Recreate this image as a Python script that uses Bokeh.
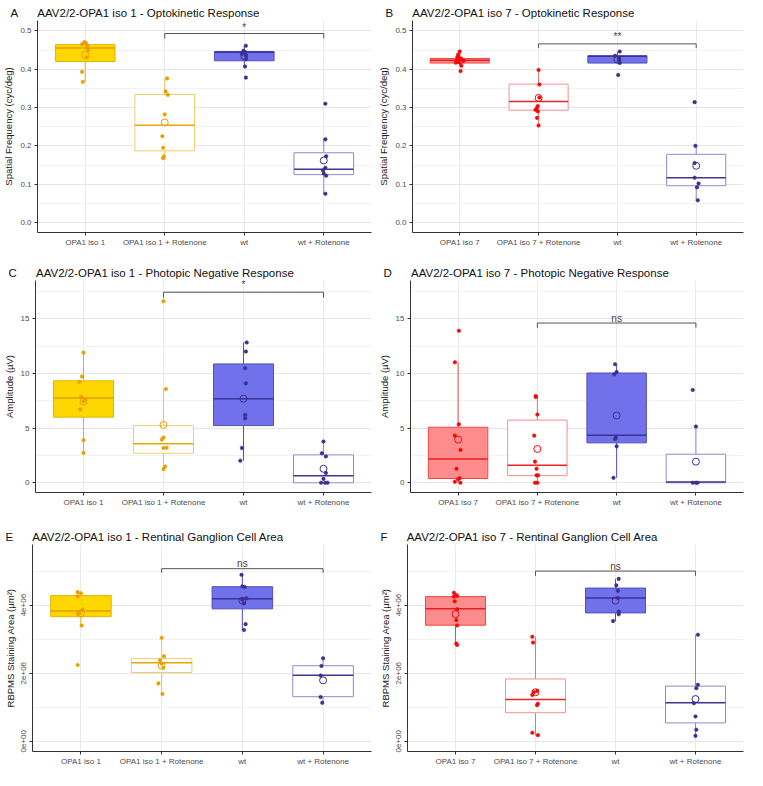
from bokeh.plotting import figure
from bokeh.layouts import column, row
from bokeh.models import FixedTicker, Range1d, ColumnDataSource
from bokeh.core.properties import value
from bokeh.embed import file_html
from bokeh.resources import INLINE

FONT = "Liberation Sans"

cats_iso1 = ["OPA1 iso 1", "OPA1 iso 1 + Rotenone", "wt", "wt + Rotenone"]
cats_iso7 = ["OPA1 iso 7", "OPA1 iso 7 + Rotenone", "wt", "wt + Rotenone"]
groups_iso1 = ["gold", "gold_rot", "blue", "blue_rot"]
groups_iso7 = ["red", "red_rot", "blue", "blue_rot"]

# ---------------- Panel A : optokinetic, iso 1 ----------------
A_pts = [[0.471, 0.468, 0.465, 0.461, 0.457, 0.450, 0.431, 0.393, 0.367],
         [0.376, 0.342, 0.333, 0.282, 0.225, 0.195, 0.172, 0.168],
         [0.461, 0.448, 0.445, 0.440, 0.436, 0.426, 0.407, 0.378],
         [0.310, 0.217, 0.173, 0.143, 0.136, 0.128, 0.122, 0.075]]
A_jit = [[-0.01, 0.01, -0.04, 0.03, 0.02, 0.04, 0.02, -0.04, -0.03],
         [0.03, 0.01, 0.04, 0.0, -0.03, -0.02, -0.01, -0.02],
         [0.02, -0.01, 0.01, -0.03, 0.02, 0.02, 0.01, 0.02],
         [0.02, 0.02, 0.03, 0.02, -0.01, 0.0, 0.03, 0.02]]
A_q1 = [0.420, 0.187, 0.422, 0.125]
A_med = [0.455, 0.254, 0.444, 0.139]
A_q3 = [0.464, 0.334, 0.446, 0.182]
A_lo = [0.367, 0.168, 0.407, 0.075]
A_hi = [0.471, 0.376, 0.461, 0.217]
A_mean = [0.438, 0.261, 0.434, 0.162]
A_bracket = [2, 4, 0.493, 0.480, 0.508, "*"]

# ---------------- Panel B : optokinetic, iso 7 ----------------
B_pts = [[0.446, 0.438, 0.432, 0.428, 0.423, 0.422, 0.419, 0.417, 0.409, 0.395],
         [0.398, 0.360, 0.326, 0.304, 0.299, 0.294, 0.290, 0.273, 0.253],
         [0.446, 0.435, 0.429, 0.422, 0.416, 0.385],
         [0.314, 0.200, 0.155, 0.117, 0.102, 0.092, 0.058]]
B_jit = [[0.0, -0.02, -0.03, 0.01, -0.04, 0.05, -0.01, -0.05, 0.02, 0.01],
         [0.0, 0.01, 0.01, -0.01, -0.02, -0.04, -0.01, -0.02, 0.0],
         [0.03, -0.03, 0.02, 0.02, 0.03, 0.01],
         [-0.02, -0.01, -0.02, -0.02, 0.03, 0.01, 0.02]]
B_q1 = [0.416, 0.293, 0.416, 0.096]
B_med = [0.423, 0.316, 0.434, 0.117]
B_q3 = [0.428, 0.361, 0.435, 0.178]
B_lo = [0.409, 0.253, 0.416, 0.058]
B_hi = [0.446, 0.398, 0.446, 0.200]
B_mean = [0.423, 0.325, 0.425, 0.148]
B_bracket = [2, 4, 0.466, 0.455, 0.485, "**"]

# ---------------- Panel C : PhNR, iso 1 ----------------
C_pts = [[11.9, 9.71, 9.21, 7.87, 7.63, 7.43, 6.71, 3.89, 2.73],
         [16.6, 8.58, 4.13, 3.95, 3.20, 3.18, 1.49, 1.25],
         [12.83, 12.0, 10.48, 9.09, 6.2, 5.9, 3.18, 2.02],
         [3.77, 2.70, 2.41, 0.89, 0.36, 0.0, 0.0, 0.0]]
C_jit = [[0.0, -0.02, -0.05, -0.03, 0.02, 0.0, -0.04, 0.0, 0.0],
         [0.0, 0.03, 0.0, -0.02, 0.04, 0.0, 0.02, 0.0],
         [0.04, 0.03, 0.02, 0.03, 0.02, 0.02, -0.02, -0.04],
         [0.0, -0.02, 0.03, 0.03, 0.0, -0.03, 0.02, 0.05]]
C_q1 = [6.0, 2.70, 5.23, 0.0]
C_med = [7.75, 3.56, 7.69, 0.65]
C_q3 = [9.33, 5.23, 10.87, 2.55]
C_lo = [2.73, 1.25, 2.02, 0.0]
C_hi = [11.9, 8.58, 12.83, 3.77]
C_mean = [7.43, 5.29, 7.69, 1.28]
C_bracket = [2, 4, 17.43, 16.93, 18.1, "*"]

# ---------------- Panel D : PhNR, iso 7 ----------------
D_pts = [[13.9, 11.02, 5.35, 4.31, 3.0, 1.28, 0.42, 0.33, 0.09, 0.0],
         [7.93, 7.84, 6.24, 4.31, 1.93, 1.28, 0.68, 0.68, 0.0, 0.0],
         [10.84, 10.13, 9.92, 4.13, 4.0, 3.33, 0.45],
         [8.49, 5.14, 0.0, 0.0, 0.0]]
D_jit = [[0.01, -0.04, 0.01, -0.04, 0.03, -0.02, 0.02, 0.0, -0.04, 0.03],
         [-0.02, -0.02, 0.0, -0.04, -0.03, -0.01, 0.01, -0.01, -0.03, 0.0],
         [-0.02, 0.0, -0.03, -0.01, -0.02, 0.0, -0.04],
         [-0.04, 0.0, -0.04, 0.0, 0.02]]
D_q1 = [0.39, 0.65, 3.65, 0.0]
D_med = [2.17, 1.6, 4.34, 0.06]
D_q3 = [5.08, 5.73, 10.04, 2.61]
D_lo = [0.0, 0.0, 0.45, 0.0]
D_hi = [11.02, 7.93, 10.84, 5.14]
D_mean = [3.95, 3.09, 6.15, 1.93]
D_bracket = [2, 4, 14.61, 14.17, 15.06, "ns"]

# ---------------- Panel E : RGC area, iso 1 ----------------
E_pts = [[4.38e6, 4.35e6, 4.26e6, 3.87e6, 3.76e6, 3.75e6, 3.40e6, 2.24e6],
         [3.04e6, 2.50e6, 2.38e6, 2.28e6, 2.16e6, 1.70e6, 1.39e6],
         [4.89e6, 4.55e6, 4.53e6, 4.20e6, 4.16e6, 4.05e6, 3.44e6, 3.27e6],
         [2.44e6, 2.21e6, 1.93e6, 1.30e6, 1.13e6]]
E_jit = [[-0.04, 0.0, -0.04, 0.02, -0.02, -0.04, 0.01, -0.04],
         [0.0, 0.03, -0.02, 0.0, 0.02, -0.04, 0.01],
         [-0.01, 0.0, 0.03, 0.05, 0.0, 0.02, 0.04, 0.02],
         [0.0, -0.02, -0.03, -0.03, -0.01]]
E_q1 = [3.66e6, 2.02e6, 3.89e6, 1.31e6]
E_med = [3.83e6, 2.31e6, 4.19e6, 1.94e6]
E_q3 = [4.28e6, 2.43e6, 4.54e6, 2.22e6]
E_lo = [3.40e6, 1.39e6, 3.27e6, 1.13e6]
E_hi = [4.38e6, 3.04e6, 4.89e6, 2.44e6]
E_mean = [3.76e6, 2.22e6, 4.13e6, 1.79e6]
E_bracket = [2, 4, 5.07e6, 4.95e6, 5.21e6, "ns"]

# ---------------- Panel F : RGC area, iso 7 ----------------
F_pts = [[4.36e6, 4.29e6, 4.27e6, 4.25e6, 4.11e6, 3.88e6, 3.56e6, 3.40e6, 2.87e6, 2.83e6],
         [3.07e6, 2.90e6, 1.48e6, 1.44e6, 1.36e6, 1.10e6, 1.06e6, 0.25e6, 0.18e6],
         [4.77e6, 4.58e6, 4.42e6, 4.21e6, 3.81e6, 3.73e6, 3.53e6],
         [3.13e6, 1.66e6, 1.56e6, 1.12e6, 0.73e6, 0.34e6, 0.16e6]]
F_jit = [[-0.02, 0.01, 0.02, -0.02, -0.01, 0.02, 0.01, 0.02, 0.01, 0.02],
         [-0.04, -0.03, 0.02, -0.02, -0.04, 0.03, 0.02, -0.04, 0.03],
         [0.04, 0.01, 0.03, 0.03, 0.04, 0.04, -0.03],
         [0.03, 0.03, 0.01, -0.02, 0.0, 0.01, 0.0]]
F_q1 = [3.41e6, 0.84e6, 3.77e6, 0.54e6]
F_med = [3.89e6, 1.23e6, 4.21e6, 1.13e6]
F_q3 = [4.25e6, 1.83e6, 4.50e6, 1.62e6]
F_lo = [2.83e6, 0.18e6, 3.53e6, 0.16e6]
F_hi = [4.36e6, 3.07e6, 4.77e6, 3.13e6]
F_mean = [3.74e6, 1.44e6, 4.13e6, 1.24e6]
F_bracket = [2, 4, 5.00e6, 4.86e6, 5.12e6, "ns"]

# ---------------- axes ----------------
okr_ticks = [0.0, 0.1, 0.2, 0.3, 0.4, 0.5]
okr_minor = [0.05, 0.15, 0.25, 0.35, 0.45]
okr_labels = ["0.0", "0.1", "0.2", "0.3", "0.4", "0.5"]
okr_range = (-0.026, 0.527)

phnr_ticks = [0, 5, 10, 15]
phnr_minor = [2.5, 7.5, 12.5, 17.5]
phnr_labels = ["0", "5", "10", "15"]
phnr_range = (-0.89, 18.5)

rgc_ticks = [0, 2e6, 4e6]
rgc_minor = [1e6, 3e6, 5e6]
rgc_labels = ["0e+00", "2e+06", "4e+06"]
rgc_range = (-0.3e6, 5.78e6)

STYLES = {
    "gold":     dict(fill="#FFD700", alpha=1.0, line="#E6B400", median="#DFA300", point="#E6A000", whisk="#E6B400"),
    "gold_rot": dict(fill="#FFFFFF", alpha=1.0, line="#F2CD6E", median="#E6A500", point="#E6A000", whisk="#F0C455"),
    "blue":     dict(fill="#7171EC", alpha=1.0, line="#5050B8", median="#3C3398", point="#3B2F8F", whisk="#5050B8"),
    "blue_rot": dict(fill="#FFFFFF", alpha=1.0, line="#8E8ACC", median="#3F3592", point="#3B2F8F", whisk="#8E8ACC"),
    "red":      dict(fill="#FF8C8C", alpha=1.0, line="#F04848", median="#E81E1E", point="#F00A0A", whisk="#F04848"),
    "red_rot":  dict(fill="#FFFFFF", alpha=1.0, line="#F39090", median="#E82424", point="#F00A0A", whisk="#F07070"),
}

GAP = "\u00a0" * 6


def panel(letter, title, cats, groups, pts, jit, q1, med, q3, lo, hi, mean,
          ylab, yr, yticks, yminor, ylabels, br, w, h, borders, rotate=False):
    p = figure(width=w, height=h, output_backend="svg", toolbar_location=None,
               x_range=Range1d(0.4, 4.6), y_range=Range1d(*yr),
               min_border_left=borders[0], min_border_right=borders[1],
               min_border_top=borders[2], min_border_bottom=borders[3])
    p.outline_line_color = None
    p.background_fill_color = "white"
    p.border_fill_color = "white"

    # panel letter + title in one title line, shifted left of the frame
    p.title.text = letter + GAP + title
    p.title.text_font = FONT
    p.title.text_font_size = "11.5px"
    p.title.text_font_style = "normal"
    p.title.text_color = "#111111"
    p.title.standoff = 3
    p.title.offset = -27

    xs = list(range(1, len(cats) + 1))
    # axes
    p.xaxis.ticker = FixedTicker(ticks=xs)
    p.xaxis.major_label_overrides = {x: c for x, c in zip(xs, cats)}
    p.yaxis.ticker = FixedTicker(ticks=yticks, minor_ticks=yminor)
    p.yaxis.major_label_overrides = {t: l for t, l in zip(yticks, ylabels)}
    p.yaxis.axis_label = ylab
    for ax in (p.xaxis, p.yaxis):
        ax.axis_line_color = "#333333"
        ax.axis_line_width = 1
        ax.major_tick_line_color = "#333333"
        ax.major_tick_out = 3
        ax.major_tick_in = 0
        ax.minor_tick_line_color = None
        ax.major_label_text_font = FONT
        ax.major_label_text_font_size = "8px"
        ax.major_label_text_color = "#4D4D4D"
        ax.major_label_standoff = 2
        ax.axis_label_text_font = FONT
        ax.axis_label_text_font_size = "9.5px"
        ax.axis_label_text_font_style = "normal"
        ax.axis_label_text_color = "#222222"
        ax.axis_label_standoff = 3
    if rotate:
        p.yaxis.major_label_orientation = "vertical"
    p.xgrid.grid_line_color = "#EBEBEB"
    p.ygrid.grid_line_color = "#E6E6E6"
    p.ygrid.minor_grid_line_color = "#F2F2F2"

    # per-category box elements
    for i, (x, g) in enumerate(zip(xs, groups)):
        st = STYLES[g]
        p.segment(x0=[x, x], y0=[q3[i], q1[i]], x1=[x, x], y1=[hi[i], lo[i]],
                  line_color=st["whisk"], line_width=1)
        p.vbar(x=[x], width=0.75, top=[q3[i]], bottom=[q1[i]],
               fill_color=st["fill"], fill_alpha=st["alpha"],
               line_color=st["line"], line_width=1)
        p.segment(x0=[x - 0.375], x1=[x + 0.375], y0=[med[i]], y1=[med[i]],
                  line_color=st["median"], line_width=1.5)
        src = ColumnDataSource(dict(x=[x + j for j in jit[i]], y=pts[i]))
        p.scatter("x", "y", source=src, size=3.6, marker="circle",
                  fill_color=st["point"], line_color=st["point"], line_width=0.5)
        p.scatter(x=[x], y=[mean[i]], size=7, marker="circle",
                  fill_alpha=0, line_color=st["point"], line_width=1)

    # significance bracket
    x0, x1, yb, yt, yl, lab = br
    p.line(x=[x0, x0, x1, x1], y=[yt, yb, yb, yt], line_color="#555555", line_width=1)
    p.text(x=[(x0 + x1) / 2], y=[yl], text=[lab], text_font=value(FONT),
           text_font_size="10px", text_color="#444444",
           text_align="center", text_baseline="middle")
    return p


LW, RW = 375, 372
pA = panel("A", "AAV2/2-OPA1 iso 1 - Optokinetic Response", cats_iso1, groups_iso1,
           A_pts, A_jit, A_q1, A_med, A_q3, A_lo, A_hi, A_mean,
           "Spatial Frequency (cyc/deg)", okr_range, okr_ticks, okr_minor, okr_labels,
           A_bracket, LW, 258, (32, 4, 20, 26))
pB = panel("B", "AAV2/2-OPA1 iso 7 - Optokinetic Response", cats_iso7, groups_iso7,
           B_pts, B_jit, B_q1, B_med, B_q3, B_lo, B_hi, B_mean,
           "Spatial Frequency (cyc/deg)", okr_range, okr_ticks, okr_minor, okr_labels,
           B_bracket, RW, 258, (32, 4, 20, 26))
pC = panel("C", "AAV2/2-OPA1 iso 1 - Photopic Negative Response", cats_iso1, groups_iso1,
           C_pts, C_jit, C_q1, C_med, C_q3, C_lo, C_hi, C_mean,
           "Amplitude (\u00b5V)", phnr_range, phnr_ticks, phnr_minor, phnr_labels,
           C_bracket, LW, 256, (32, 4, 22, 22))
pD = panel("D", "AAV2/2-OPA1 iso 7 - Photopic Negative Response", cats_iso7, groups_iso7,
           D_pts, D_jit, D_q1, D_med, D_q3, D_lo, D_hi, D_mean,
           "Amplitude (\u00b5V)", phnr_range, phnr_ticks, phnr_minor, phnr_labels,
           D_bracket, RW, 256, (32, 4, 22, 22))
pE = panel("E", "AAV2/2-OPA1 iso 1 - Rentinal Ganglion Cell Area", cats_iso1, groups_iso1,
           E_pts, E_jit, E_q1, E_med, E_q3, E_lo, E_hi, E_mean,
           "RBPMS Staining Area (\u00b5m\u00b2)", rgc_range, rgc_ticks, rgc_minor, rgc_labels,
           E_bracket, LW, 254, (32, 4, 30, 14), rotate=True)
pF = panel("F", "AAV2/2-OPA1 iso 7 - Rentinal Ganglion Cell Area", cats_iso7, groups_iso7,
           F_pts, F_jit, F_q1, F_med, F_q3, F_lo, F_hi, F_mean,
           "RBPMS Staining Area (\u00b5m\u00b2)", rgc_range, rgc_ticks, rgc_minor, rgc_labels,
           F_bracket, RW, 254, (32, 4, 30, 14), rotate=True)

layout = column(row(pA, pB), row(pC, pD), row(pE, pF))
open("out.html", "w").write(file_html(layout, INLINE))
